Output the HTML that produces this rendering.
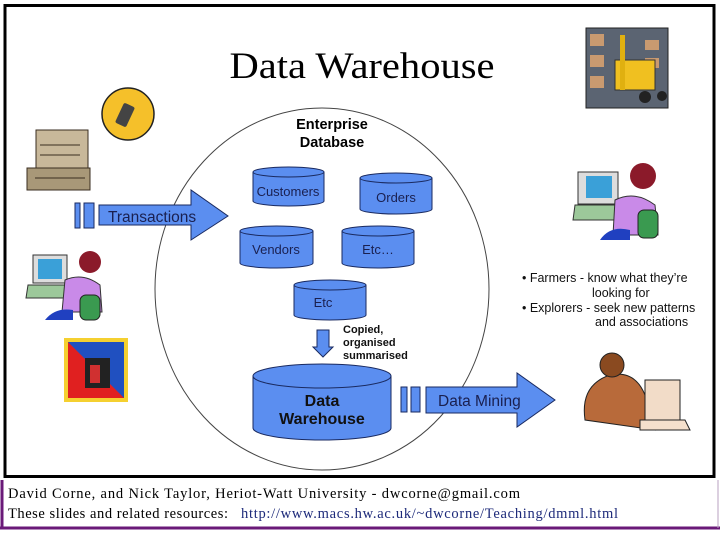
<!DOCTYPE html>
<html><head><meta charset="utf-8"><style>
html,body{margin:0;padding:0;background:#fff;width:720px;height:540px;overflow:hidden}
svg{display:block}
</style></head><body>
<svg width="720" height="540" xmlns="http://www.w3.org/2000/svg">
<rect x="0" y="0" width="720" height="540" fill="#fff"/>
<rect x="5" y="5.5" width="709" height="471" fill="none" stroke="#000" stroke-width="3"/>
<!-- footer -->
<line x1="2" y1="480" x2="2" y2="528" stroke="#6a1a78" stroke-width="3"/>
<line x1="0" y1="528" x2="720" y2="528" stroke="#6a1a78" stroke-width="3"/>
<line x1="718" y1="480" x2="718" y2="528" stroke="#b8a0c0" stroke-width="1"/>
<g font-family="Liberation Serif, serif" font-size="14.5" fill="#000">
<text x="8" y="498" textLength="512" lengthAdjust="spacing">David Corne, and Nick Taylor,  Heriot-Watt University  -  dwcorne@gmail.com</text>
<text x="8" y="518" textLength="220" lengthAdjust="spacing">These slides and related resources:</text>
<text x="241" y="518" fill="#1d2a7a" textLength="377" lengthAdjust="spacing">http://www.macs.hw.ac.uk/~dwcorne/Teaching/dmml.html</text>
</g>
<!-- title -->
<text x="362" y="78" text-anchor="middle" font-family="Liberation Serif, serif" font-size="37" fill="#000" textLength="265" lengthAdjust="spacingAndGlyphs">Data Warehouse</text>
<!-- ellipse -->
<ellipse cx="322" cy="289" rx="167" ry="181" fill="none" stroke="#444" stroke-width="1"/>
<g font-family="Liberation Sans, sans-serif" font-weight="bold" font-size="14.5" text-anchor="middle" fill="#000">
<text x="332" y="129">Enterprise</text><text x="332" y="147">Database</text></g>
<!-- cylinders -->
<g stroke="#1a2a60" stroke-width="1" fill="#5b8ef0" font-family="Liberation Sans, sans-serif" font-size="13" text-anchor="middle">
<path d="M253 172 v29 a35.5 5 0 0 0 71 0 v-29"/><ellipse cx="288.5" cy="172" rx="35.5" ry="5"/>
<text x="288" y="196" fill="#1a2050" stroke="none">Customers</text>
<path d="M360 178 v31 a36 5 0 0 0 72 0 v-31"/><ellipse cx="396" cy="178" rx="36" ry="5"/>
<text x="396" y="202" fill="#1a2050" stroke="none">Orders</text>
<path d="M240 231 v32 a36.5 5 0 0 0 73 0 v-32"/><ellipse cx="276.5" cy="231" rx="36.5" ry="5"/>
<text x="276" y="254" fill="#1a2050" stroke="none">Vendors</text>
<path d="M342 231 v32 a36 5 0 0 0 72 0 v-32"/><ellipse cx="378" cy="231" rx="36" ry="5"/>
<text x="378" y="254" fill="#1a2050" stroke="none">Etc…</text>
<path d="M294 285 v30 a36 5 0 0 0 72 0 v-30"/><ellipse cx="330" cy="285" rx="36" ry="5"/>
<text x="323" y="307" fill="#1a2050" stroke="none">Etc</text>
<path d="M253 376 v52 a69 12 0 0 0 138 0 v-52"/><ellipse cx="322" cy="376" rx="69" ry="12"/>
<text x="322" y="406" fill="#111" stroke="none" font-weight="bold" font-size="16">Data</text>
<text x="322" y="424" fill="#111" stroke="none" font-weight="bold" font-size="16">Warehouse</text>
</g>
<!-- down arrow -->
<path d="M317 330 h12 v17 h4 l-10 10 l-10 -10 h4 z" fill="#5b8ef0" stroke="#1a2a60"/>
<g font-family="Liberation Sans, sans-serif" font-weight="bold" font-size="11" fill="#111">
<text x="343" y="333">Copied,</text><text x="343" y="346">organised</text><text x="343" y="359">summarised</text></g>
<!-- arrows -->
<g fill="#5b8ef0" stroke="#1a2a60" stroke-width="1">
<rect x="75" y="203" width="5" height="25"/><rect x="84" y="203" width="10" height="25"/>
<path d="M99 205 h92 v-15 l37 26 l-37 24 v-15 h-92 z"/>
<rect x="401" y="387" width="6" height="25"/><rect x="411" y="387" width="9" height="25"/>
<path d="M426 387 h91 v-14 l38 27 l-38 27 v-14 h-91 z"/>
</g>
<g font-family="Liberation Sans, sans-serif" font-size="15.5" fill="#1a2050">
<text x="108" y="222">Transactions</text>
<text x="438" y="406">Data Mining</text></g>
<!-- bullets -->
<g font-family="Liberation Sans, sans-serif" font-size="12.5" fill="#111">
<text x="522" y="282">• Farmers -  know what they’re</text>
<text x="592" y="297">looking for</text>
<text x="522" y="312">• Explorers - seek new patterns</text>
<text x="595" y="326">and associations</text></g>
<!-- phone -->
<circle cx="128" cy="114" r="26" fill="#f5c02a" stroke="#222" stroke-width="1.5"/>
<rect x="119" y="104" width="12" height="22" rx="2" transform="rotate(25 125 115)" fill="#444"/>
<!-- cash register -->
<rect x="36" y="130" width="52" height="50" fill="#c8b89a" stroke="#3a2e20"/>
<rect x="27" y="168" width="63" height="22" fill="#a89878" stroke="#3a2e20"/>
<g stroke="#3a2e20"><line x1="40" y1="145" x2="80" y2="145"/><line x1="40" y1="155" x2="80" y2="155"/><line x1="35" y1="178" x2="85" y2="178"/></g>
<!-- forklift -->
<rect x="586" y="28" width="82" height="80" fill="#5b6472" stroke="#222"/>
<g fill="#c99a70"><rect x="590" y="34" width="14" height="12"/><rect x="590" y="55" width="14" height="12"/><rect x="590" y="76" width="14" height="12"/><rect x="645" y="40" width="14" height="10"/><rect x="645" y="58" width="14" height="10"/></g>
<rect x="615" y="60" width="40" height="30" fill="#f0c020" stroke="#333"/>
<rect x="620" y="35" width="5" height="55" fill="#e0b010"/>
<circle cx="645" cy="97" r="6" fill="#222"/><circle cx="662" cy="96" r="5" fill="#222"/>
<!-- woman right -->
<rect x="578" y="172" width="40" height="32" fill="#ddd" stroke="#333"/><rect x="586" y="176" width="26" height="22" fill="#3aa0d8"/>
<path d="M575 205 h45 l-5 15 h-42 z" fill="#9cc89a" stroke="#333"/>
<circle cx="643" cy="176" r="13" fill="#8b1a2a"/>
<path d="M615 200 q20 -10 40 5 l3 30 h-45 z" fill="#c98ae8" stroke="#333"/>
<path d="M600 240 q10 -15 30 -10 v10 z" fill="#2040c0"/>
<rect x="638" y="210" width="20" height="28" rx="6" fill="#3a9a50" stroke="#222"/>
<!-- woman left -->
<rect x="33" y="255" width="34" height="28" fill="#ddd" stroke="#333"/><rect x="38" y="259" width="24" height="20" fill="#3aa0d8"/>
<path d="M28 285 h42 l-4 13 h-40 z" fill="#9cc89a" stroke="#333"/>
<circle cx="90" cy="262" r="11" fill="#8b1a2a"/>
<path d="M65 280 q18 -8 35 5 l2 27 h-40 z" fill="#c98ae8" stroke="#333"/>
<path d="M45 320 q10 -13 28 -10 v10 z" fill="#2040c0"/>
<rect x="80" y="295" width="20" height="25" rx="6" fill="#3a9a50" stroke="#222"/>
<!-- stamp -->
<rect x="64" y="338" width="64" height="64" fill="#f5d030"/>
<rect x="68" y="342" width="56" height="56" fill="#e02020"/>
<path d="M68 342 h56 v56 z" fill="#2050c0"/>
<rect x="85" y="358" width="25" height="30" fill="#222"/><rect x="90" y="365" width="10" height="18" fill="#d03030"/>
<!-- man -->
<path d="M585 420 q-5 -35 25 -45 q25 -5 35 20 l10 35 z" fill="#b86a3a" stroke="#222"/>
<circle cx="612" cy="365" r="12" fill="#8a4a20" stroke="#222"/>
<path d="M645 380 h35 v45 h-35 z" fill="#f2dcc8" stroke="#222"/>
<path d="M640 420 h45 l5 10 h-50 z" fill="#f5e0cc" stroke="#222"/>
</svg>
</body></html>
